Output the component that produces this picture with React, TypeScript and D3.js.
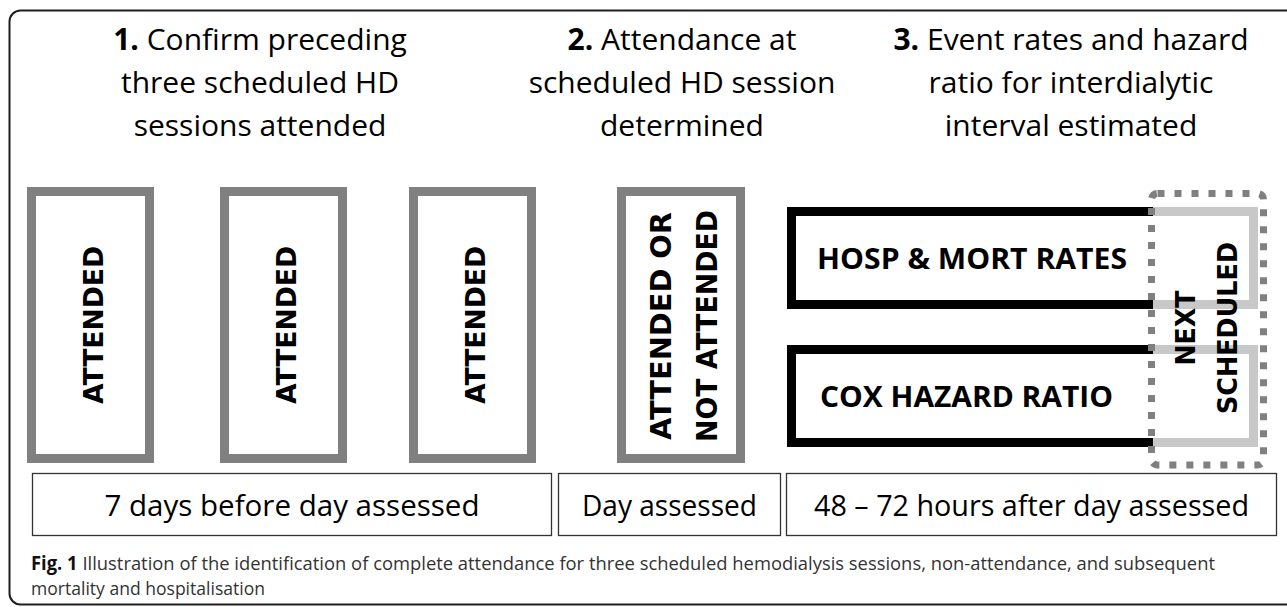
import React from "react";
import * as d3 from "d3";

// ---- content ----
const stepNumbers = ["1.", "2.", "3."];
const stepFirstLines = ["Confirm preceding", "Attendance at", "Event rates and hazard"];
const stepOtherLines = [
  ["three scheduled HD", "sessions attended"],
  ["scheduled HD session", "determined"],
  ["ratio for interdialytic", "interval estimated"],
];
const precedingSessions = ["ATTENDED", "ATTENDED", "ATTENDED"];
const assessedLines = ["ATTENDED OR", "NOT ATTENDED"];
const outcomeLabels = ["HOSP & MORT RATES", "COX HAZARD RATIO"];
const nextLines = ["NEXT", "SCHEDULED"];
const periodLabels = ["7 days before day assessed", "Day assessed", "48 – 72 hours after day assessed"];
const captionBold = "Fig. 1";
const captionLines = [
  " Illustration of the identification of complete attendance for three scheduled hemodialysis sessions, non-attendance, and subsequent",
  "mortality and hospitalisation",
];

// ---- layout ----
const W = 1287;
const H = 607;
const titleCenters = [260, 682, 1071];
const titleBaselines = [50, 93, 136];
const sessionLeft = [27, 220, 409];
const sessionW = 127;
const assessedLeft = 617;
const boxTop = 187;
const boxBottom = 463;
const greyStroke = 9;
const periodEdges: [number, number][] = [[32, 552], [558, 781], [786, 1277]];
const periodTextWidths = [375, 175, 435];
const periodTop = 473;
const periodBottom = 536;
const outcomeTops = [207, 345];
const outcomeH = 102;
const blackLeft = 787;
const blackEnd = 1153;
const lightRight = 1258;

const titleFont = "'Open Sans', 'Noto Sans', sans-serif";
const boldBoxFont = "'DejaVu Sans', Verdana, sans-serif";

export default function App() {
  const yBox = d3.scaleLinear().domain([0, 1]).range([boxTop, boxBottom]);
  const yMid = yBox(0.5);
  return (
    <svg
      width={W}
      height={H}
      viewBox={`0 0 ${W} ${H}`}
      style={{ position: "absolute", left: 0, top: 0, background: "#fff" }}
    >
      {/* outer frame */}
      <rect x={9.5} y={10.5} width={1300} height={594} rx={11} fill="none" stroke="#1e1e1e" strokeWidth={2} />

      {/* step titles */}
      {stepNumbers.map((n, i) => (
        <g key={"t" + i} fontFamily={titleFont} fontSize={30} fill="#000" textAnchor="middle">
          <text x={titleCenters[i]} y={titleBaselines[0]}>
            <tspan fontWeight="bold">{n}</tspan>
            <tspan> {stepFirstLines[i]}</tspan>
          </text>
          {stepOtherLines[i].map((l, j) => (
            <text key={j} x={titleCenters[i]} y={titleBaselines[j + 1]}>
              {l}
            </text>
          ))}
        </g>
      ))}

      {/* preceding sessions */}
      {precedingSessions.map((s, i) => {
        const cx = sessionLeft[i] + sessionW / 2;
        return (
          <g key={"s" + i}>
            <rect
              x={sessionLeft[i] + greyStroke / 2}
              y={boxTop + greyStroke / 2}
              width={sessionW - greyStroke}
              height={boxBottom - boxTop - greyStroke}
              fill="#fff"
              stroke="#808080"
              strokeWidth={greyStroke}
            />
            <text
              transform={`translate(${cx + 12},${yMid}) rotate(-90)`}
              textAnchor="middle"
              fontFamily={boldBoxFont}
              fontWeight="bold"
              fontSize={26}
              textLength={158}
              lengthAdjust="spacingAndGlyphs"
            >
              {s}
            </text>
          </g>
        );
      })}

      {/* assessed day */}
      <rect
        x={assessedLeft + greyStroke / 2}
        y={boxTop + greyStroke / 2}
        width={sessionW + 1 - greyStroke}
        height={boxBottom - boxTop - greyStroke}
        fill="#fff"
        stroke="#808080"
        strokeWidth={greyStroke}
      />
      {assessedLines.map((l, j) => (
        <text
          key={"a" + j}
          transform={`translate(${671 + j * 46},${yMid + 1}) rotate(-90)`}
          textAnchor="middle"
          fontFamily={boldBoxFont}
          fontWeight="bold"
          fontSize={28}
          textLength={j === 0 ? 228 : 232}
          lengthAdjust="spacingAndGlyphs"
        >
          {l}
        </text>
      ))}

      {/* outcome boxes */}
      {outcomeLabels.map((l, i) => {
        const t = outcomeTops[i] + greyStroke / 2;
        const b = outcomeTops[i] + outcomeH - greyStroke / 2;
        return (
          <g key={"o" + i}>
            <path
              d={`M${blackEnd - 2},${t} H${lightRight - greyStroke / 2} V${b} H${blackEnd - 2}`}
              fill="none"
              stroke="#c8c8c8"
              strokeWidth={greyStroke}
            />
            <path
              d={`M${blackEnd},${t} H${blackLeft + greyStroke / 2} V${b} H${blackEnd}`}
              fill="none"
              stroke="#000"
              strokeWidth={greyStroke}
            />
            <text
              x={i === 0 ? 817 : 820}
              y={outcomeTops[i] + outcomeH / 2 + 11}
              fontFamily={titleFont}
              fontWeight="bold"
              fontSize={29}
              textLength={i === 0 ? 310 : 293}
              lengthAdjust="spacingAndGlyphs"
            >
              {l}
            </text>
          </g>
        );
      })}

      {/* next scheduled dotted box */}
      <rect
        x={1151.5}
        y={193.5}
        width={112}
        height={271.5}
        rx={6}
        fill="none"
        stroke="#808080"
        strokeWidth={7}
        strokeDasharray="7 10"
      />
      {nextLines.map((l, j) => (
        <text
          key={"n" + j}
          transform={`translate(${1195 + j * 42},${328}) rotate(-90)`}
          textAnchor="middle"
          fontFamily={boldBoxFont}
          fontWeight="bold"
          fontSize={26}
          textLength={j === 0 ? 75 : 172}
          lengthAdjust="spacingAndGlyphs"
        >
          {l}
        </text>
      ))}

      {/* period boxes */}
      {periodLabels.map((p, i) => {
        const [x0, x1] = periodEdges[i];
        return (
          <g key={"p" + i}>
            <rect
              x={x0 + 0.5}
              y={periodTop + 0.5}
              width={x1 - x0 - 1}
              height={periodBottom - periodTop - 1}
              fill="#fff"
              stroke="#333"
              strokeWidth={1.3}
            />
            <text
              x={(x0 + x1) / 2}
              y={516}
              textAnchor="middle"
              fontFamily={titleFont}
              fontSize={30}
              fill="#000"
              textLength={periodTextWidths[i]}
              lengthAdjust="spacingAndGlyphs"
            >
              {p}
            </text>
          </g>
        );
      })}

      {/* caption */}
      <text x={31} y={570} fontFamily="'Liberation Sans Narrow', 'Open Sans', sans-serif" fontSize={19} fill="#333" textLength={1184} lengthAdjust="spacingAndGlyphs">
        <tspan fontWeight="bold" fill="#111">{captionBold}</tspan>
        <tspan>{captionLines[0]}</tspan>
      </text>
      <text x={31} y={595} fontFamily="'Liberation Sans Narrow', 'Open Sans', sans-serif" fontSize={19} fill="#333" textLength={234} lengthAdjust="spacingAndGlyphs">
        {captionLines[1]}
      </text>
    </svg>
  );
}
